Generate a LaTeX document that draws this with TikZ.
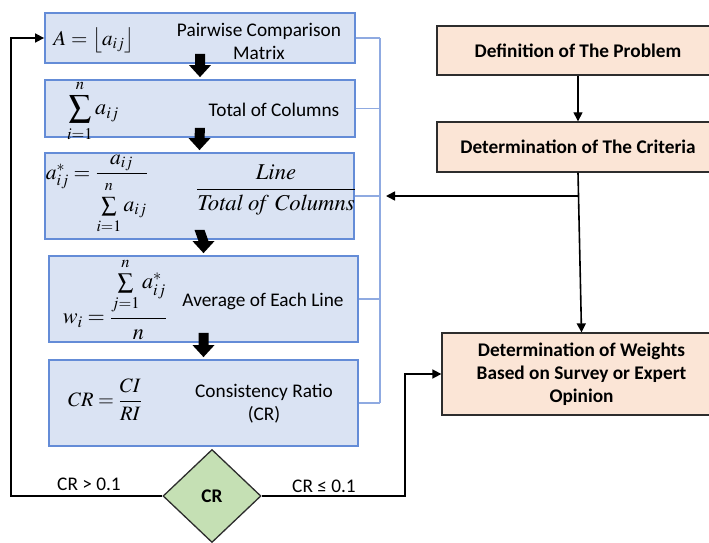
\documentclass[tikz,border=0pt]{standalone}
\usepackage{amsmath}
\usepackage{mathptmx}
\usepackage{fontspec}
\setmainfont{Carlito}
\usetikzlibrary{arrows.meta,shapes.geometric,calc}
\definecolor{boxblue}{RGB}{218,227,243}
\definecolor{edgeblue}{RGB}{100,140,215}
\definecolor{brkblue}{RGB}{143,170,225}
\definecolor{peach}{RGB}{251,229,214}
\definecolor{dgreen}{RGB}{197,224,180}
\definecolor{edgedark}{RGB}{45,45,45}
\newcommand\blockarrow[2]{%
  \fill[black] ($(#1.south)+(-5,-10)$) -- ($(#1.south)+(5,-10)$) --
    ($(#2.north)+(5,-14)$) -- ($(#2.north)+(11,-14)$) -- ($(#2.north)+(0,-2)$) --
    ($(#2.north)+(-11,-14)$) -- ($(#2.north)+(-5,-14)$) -- cycle;}
\newcommand\upl[1]{\vphantom{(}#1}
\newcommand\lol[1]{#1\vphantom{)}}
\begin{document}
\begin{tikzpicture}[x=1pt,y=-1pt,
  font=\fontsize{19.3}{23}\selectfont,
  lbox/.style={draw=edgeblue, line width=1.8pt, fill=boxblue, inner sep=0pt, minimum width=310pt},
  rbox/.style={draw=edgedark, line width=1.3pt, fill=peach, inner sep=0pt, minimum width=282pt, align=center, font=\fontsize{19.3}{23}\selectfont\bfseries},
  txt/.style={inner sep=0pt, align=center},
  mth/.style={inner sep=0pt, scale=1.15, transform shape},
  brk/.style={draw=brkblue, line width=1.3pt},
  conn/.style={draw=black, line width=1.6pt},
  tip/.style={-{Triangle[length=9pt,width=9pt]}}]
\useasboundingbox (0,0) rectangle (709,543);
\clip (0,0) rectangle (709,543);
% left boxes
\node[lbox, minimum height=50pt] (b1) at (200,38) {};
\node[lbox, minimum height=57pt] (b2) at (200,108.5) {};
\node[lbox, minimum height=86pt, minimum width=309pt] (b3) at (199.5,196) {};
\node[lbox, minimum height=86pt, minimum width=309pt] (b4) at (203.5,299) {};
\node[lbox, minimum height=86pt, minimum width=309pt] (b5) at (203.5,403) {};
% contents
\node[mth, scale=0.95] (m1) at (94,40) {$A=\left\lfloor a_{ij}\right\rfloor$};
\node[txt] (t1) at (259,41) {Pairwise Comparison\\Matrix};
\node[mth] (m2) at (93,110) {$\displaystyle\sum_{\lol{i=1}}^{\upl{n}} a_{ij}$};
\node[txt] (t2) at (274,110) {Total of Columns};
\node[mth, scale=0.97] (m3) at (97,196) {$a^*_{ij}=\dfrac{a_{ij}}{\sum\limits_{\lol{i=1}}^{\upl{n}}a_{ij}}$};
\node[mth, scale=1.02] (t3) at (276,190) {$\dfrac{\mathit{Line}}{\mathit{Total\ of\ Columns}}$};
\node[mth] (m4) at (115,296) {$w_i=\dfrac{\sum\limits_{\lol{j=1}}^{\upl{n}}a^*_{ij}}{n}$};
\node[txt] (t4) at (263,301) {Average of Each Line};
\node[mth, scale=0.92] (m5) at (105,400) {$CR=\dfrac{CI}{RI}$};
\node[txt] (t5) at (264,404) {Consistency Ratio\\(CR)};
% block arrows
\blockarrow{b1}{b2}
\blockarrow{b2}{b3}
\blockarrow{b3}{b4}
\blockarrow{b4}{b5}
% bracket
\coordinate (brtop) at (380,38);
\coordinate (brbot) at (380,403);
\draw[brk] (brtop) -- (brbot);
\draw[brk] (b1.east) -- (b1.east -| brtop);
\draw[brk] (b2.east) -- (b2.east -| brtop);
\draw[brk] (b3.east) -- (b3.east -| brtop);
\draw[brk] (b4.east) -- (b4.east -| brtop);
\draw[brk] (b5.east) -- (b5.east -| brtop);
% right boxes
\node[rbox, minimum height=49pt] (r1) at (578,50.5) {Definition of The Problem};
\node[rbox, minimum height=50pt] (r2) at (578,147) {Determination of The Criteria};
\node[rbox, minimum height=82pt, minimum width=279pt] (r3) at (581.5,374) {Determination of Weights\\Based on Survey or Expert\\Opinion};
% diamond
\node[diamond, draw=edgedark, line width=1.3pt, fill=dgreen, minimum width=98pt, minimum height=93pt, inner sep=0pt, font=\fontsize{19.3}{23}\selectfont\bfseries] (d) at (212,496) {CR};
% connectors
\draw[conn, line width=1.1pt, tip] (r1) -- (r2);
\draw[conn, tip] (r2.south) -- (r3.north);
\coordinate (jn) at (r2.south |- b3.east);
\coordinate (tipL) at (386,196);
\draw[conn, tip] (jn) -- (tipL);
\coordinate (lx) at (11,496);
\draw[conn, tip] (d.west) -- (lx) |- (b1.west);
\coordinate (rx) at (405,496);
\draw[conn, tip] (d.east) -- (rx) |- (r3.west);
% labels
\node[txt] (l1) at (89,484) {CR > 0.1};
\node[txt] (l2) at (324,486) {CR ≤ 0.1};
\end{tikzpicture}
\end{document}
